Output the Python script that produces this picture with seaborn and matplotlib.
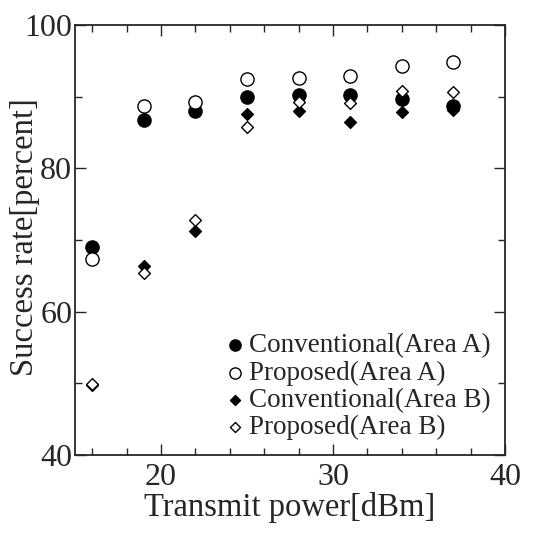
import numpy as np
import pandas as pd
import matplotlib
matplotlib.use("Agg")
import matplotlib.pyplot as plt
import seaborn as sns
from matplotlib.ticker import MultipleLocator

# transmit power levels [dBm]
power = [16, 19, 22, 25, 28, 31, 34, 37]

# success rate [percent]
conv_a = [69.0, 86.7, 88.0, 89.9, 90.2, 90.2, 89.7, 88.7]
prop_a = [67.4, 88.7, 89.3, 92.5, 92.6, 92.9, 94.3, 94.9]
conv_b = [49.8, 66.4, 71.3, 87.6, 88.0, 86.4, 87.9, 88.2]
prop_b = [49.9, 65.4, 72.8, 85.8, 89.3, 89.1, 90.8, 90.6]

labels = ["Conventional(Area A)", "Proposed(Area A)",
          "Conventional(Area B)", "Proposed(Area B)"]

sns.set_style("ticks")
plt.rcParams["font.family"] = ["Liberation Serif", "DejaVu Serif"]

fig = plt.figure(figsize=(5.34, 5.33), dpi=100)
ax = fig.add_axes([0.1404, 0.1463, 0.8053, 0.8068])

series = [
    (conv_a, "o", "black", 9.5),
    (prop_a, "o", "white", 9.5),
    (conv_b, "D", "black", 6),
    (prop_b, "D", "white", 6),
]
for (vals, mk, fc, ms), lab in zip(series, labels):
    df = pd.DataFrame({"power": power, "rate": vals})
    sns.scatterplot(data=df, x="power", y="rate", ax=ax, marker=mk,
                    s=ms ** 2, color=fc, edgecolor="black", linewidth=1.0,
                    label=lab, zorder=3)

ax.set_xlim(15, 40)
ax.set_ylim(40, 100)
ax.xaxis.set_major_locator(MultipleLocator(10))
ax.xaxis.set_minor_locator(MultipleLocator(2))
ax.yaxis.set_major_locator(MultipleLocator(20))
ax.yaxis.set_minor_locator(MultipleLocator(10))
ax.tick_params(which="both", direction="in", top=True, right=True,
               labelsize=23, width=1.0)
ax.tick_params(which="major", length=8)
ax.tick_params(which="minor", length=5)
ax.tick_params(axis="x", which="major", pad=6)
ax.tick_params(axis="y", which="major", pad=2)
for sp in ax.spines.values():
    sp.set_linewidth(1.3)

ax.set_xlabel("Transmit power[dBm]", fontsize=23.5, labelpad=0)
ax.set_ylabel("Success rate[percent]", fontsize=23.5)
ax.yaxis.set_label_coords(-0.081, 0.507)

leg = ax.legend(loc="upper left", bbox_to_anchor=(0.348, 0.283), frameon=False,
                fontsize=19.5, handletextpad=0.1, labelspacing=0.08,
                borderaxespad=0, borderpad=0, handlelength=0.8,
                markerscale=0.85)

fig.savefig("out.png", dpi=100)
